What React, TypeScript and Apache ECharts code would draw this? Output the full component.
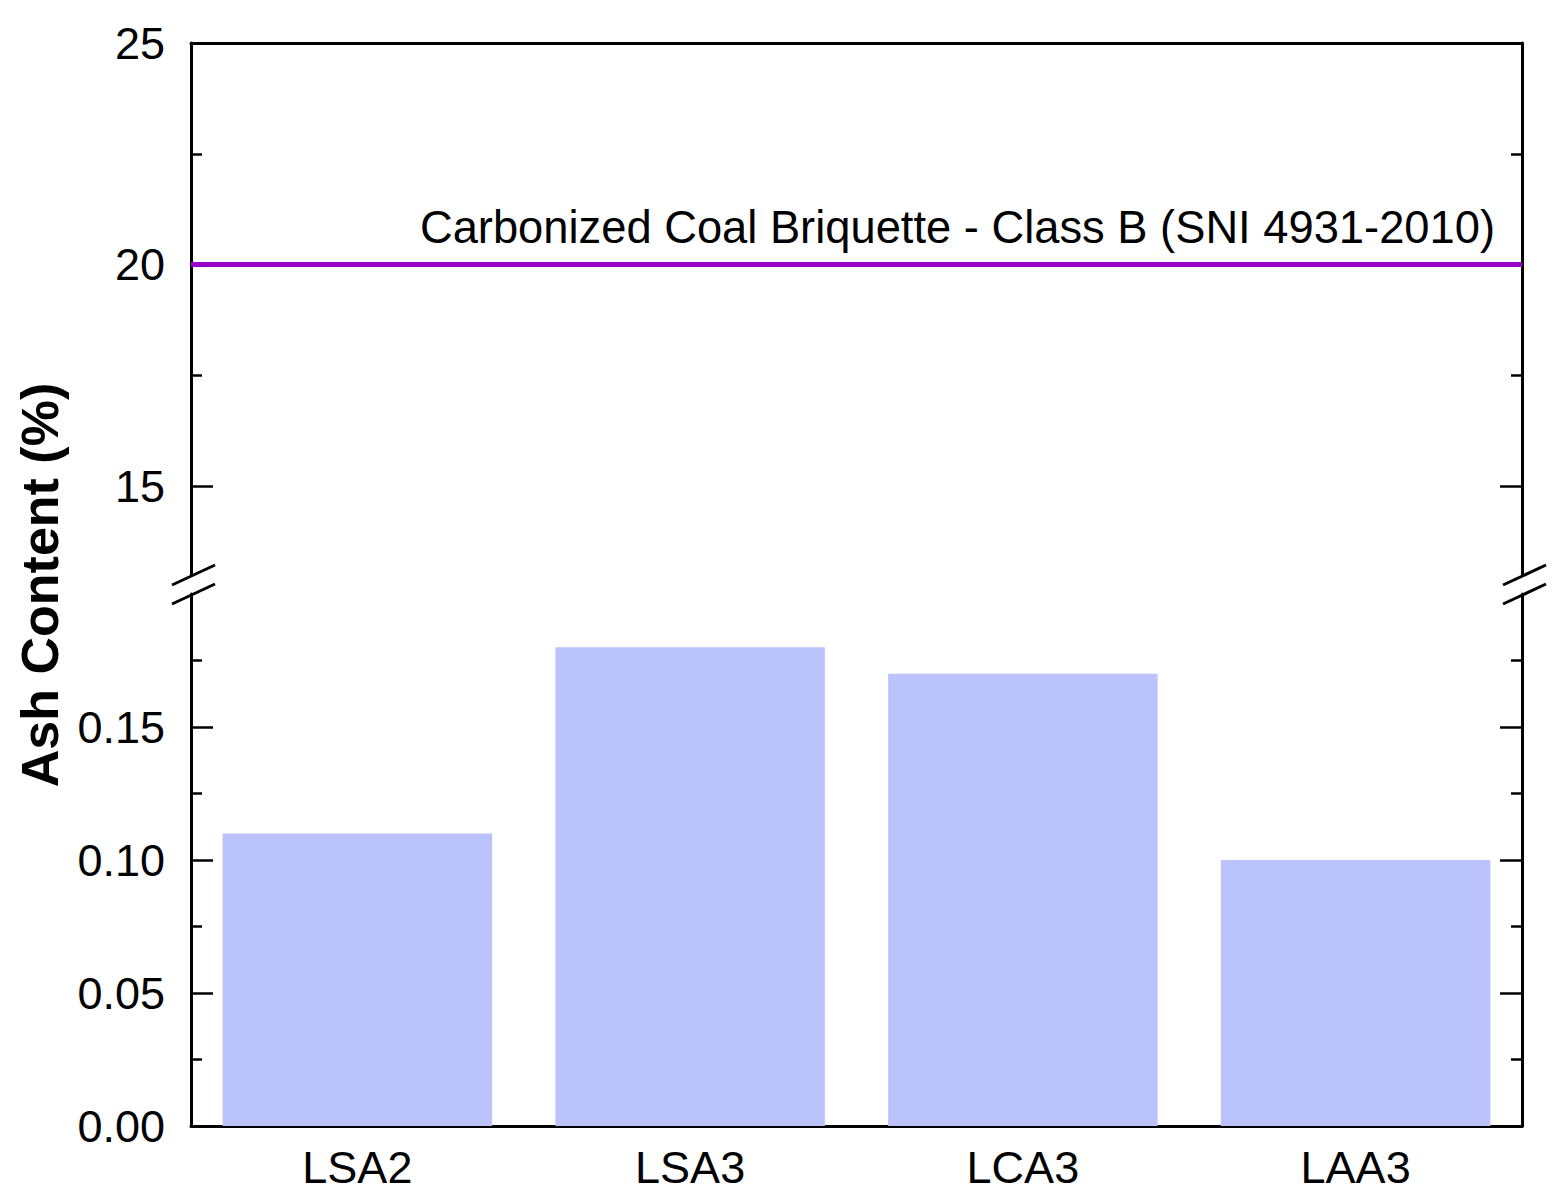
import React, { useEffect, useRef } from "react";
import * as echarts from "echarts";

const categories = ["LSA2", "LSA3", "LCA3", "LAA3"];
const ashValues = [0.11, 0.18, 0.17, 0.1];
const thresholdValue = 20;
const thresholdLabel = "Carbonized Coal Briquette - Class B (SNI 4931-2010)";

const upperRange = [13, 25];
const upperMajorTicks = [15, 20, 25];
const upperMinorTicks = [17.5, 22.5];
const lowerRange = [0, 0.2];
const lowerMajorTicks = [0, 0.05, 0.1, 0.15];
const lowerMinorTicks = [0.025, 0.075, 0.125, 0.175];

const FONT = '"Liberation Sans", Arial, sans-serif';
const AXIS_COLOR = "#000";

function yAxisSet(gridIndex: number, range: number[], major: number[], minor: number[], fmt: (v: number) => string) {
  const base = {
    type: "value",
    gridIndex,
    min: range[0],
    max: range[1],
    splitLine: { show: false },
  };
  const mk = (position: string, ticks: number[], len: number, line: boolean, labels: boolean) => ({
    ...base,
    position,
    axisLine: { show: line, lineStyle: { color: AXIS_COLOR, width: 3 } },
    axisTick: {
      show: true,
      inside: true,
      length: len,
      customValues: ticks,
      lineStyle: { color: AXIS_COLOR, width: 2.5 },
    },
    axisLabel: labels
      ? {
          show: true,
          customValues: major,
          formatter: (v: number) => fmt(v),
          fontSize: 45,
          fontFamily: FONT,
          color: "#000",
          margin: 26,
        }
      : { show: false },
  });
  return [
    mk("left", major, 22, true, true),
    mk("left", minor, 11, false, false),
    mk("right", major, 22, true, false),
    mk("right", minor, 11, false, false),
  ];
}

function breakMarks(x: number) {
  return [576, 595].map((y) => ({
    type: "line",
    shape: { x1: x - 19, y1: y + 9, x2: x + 24, y2: y - 11 },
    style: { stroke: "#000", lineWidth: 3 },
    z: 100,
  }));
}

export default function App() {
  const ref = useRef<HTMLDivElement>(null);
  useEffect(() => {
    if (!ref.current) return;
    const chart = echarts.init(ref.current, undefined, { renderer: "svg" });
    const option = {
      animation: false,
      backgroundColor: "#fff",
      grid: [
        { left: 191, right: 44, top: 43, height: 532 },
        { left: 191, right: 44, top: 594, height: 532 },
      ],
      xAxis: [
        {
          type: "category",
          gridIndex: 0,
          data: categories,
          position: "top",
          axisLine: { show: true, lineStyle: { color: AXIS_COLOR, width: 3 } },
          axisTick: { show: false },
          axisLabel: { show: false },
        },
        {
          type: "category",
          gridIndex: 1,
          data: categories,
          position: "bottom",
          axisLine: { show: true, lineStyle: { color: AXIS_COLOR, width: 3 } },
          axisTick: { show: false },
          axisLabel: { fontSize: 45, fontFamily: FONT, color: "#000", margin: 19 },
        },
      ],
      yAxis: [
        ...yAxisSet(0, upperRange, upperMajorTicks, upperMinorTicks, (v) => String(v)),
        ...yAxisSet(1, lowerRange, lowerMajorTicks, lowerMinorTicks, (v) => v.toFixed(2)),
      ],
      series: [
        {
          type: "bar",
          xAxisIndex: 1,
          yAxisIndex: 4,
          data: ashValues,
          barCategoryGap: "19%",
          itemStyle: { color: "#BBC3FD" },
        },
        {
          type: "line",
          xAxisIndex: 0,
          yAxisIndex: 0,
          data: [],
          markLine: {
            silent: true,
            symbol: "none",
            data: [{ yAxis: thresholdValue }],
            lineStyle: { color: "#9900CC", width: 5, type: "solid" },
            label: {
              show: true,
              position: "insideEndTop",
              formatter: thresholdLabel,
              fontSize: 45.3,
              fontFamily: FONT,
              color: "#000",
              distance: [27, 15],
            },
          },
        },
      ],
      graphic: [
        ...breakMarks(191),
        ...breakMarks(1522),
        {
          type: "text",
          x: 40,
          y: 585,
          rotation: Math.PI / 2,
          style: {
            text: "Ash Content (%)",
            fontSize: 52,
            fontWeight: "bold",
            fontFamily: FONT,
            fill: "#000",
            align: "center",
            verticalAlign: "middle",
          },
        },
      ],
    };
    chart.setOption(option as any);
    return () => chart.dispose();
  }, []);
  return (
    <div
      ref={ref}
      style={{ position: "fixed", left: 0, top: 0, width: 1566, height: 1203, background: "#fff" }}
    />
  );
}
